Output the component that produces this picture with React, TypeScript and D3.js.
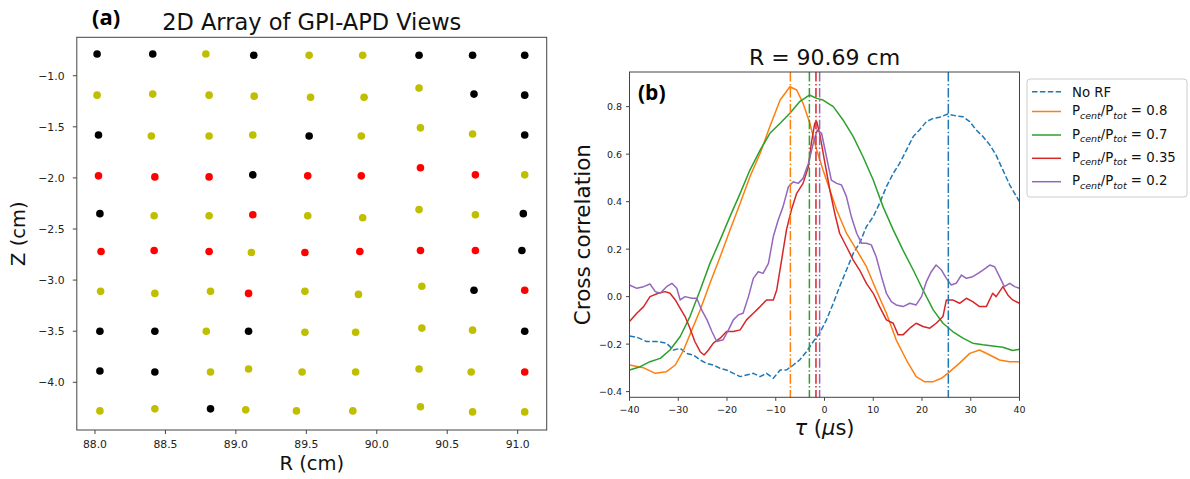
import React from 'react';
import * as d3 from 'd3';

// ---------- Panel (a): 2D array of GPI-APD views ----------
const rLimits = [87.871, 91.206];
const zLimits = [-0.624, -4.467];
const rTicks = [88.0, 88.5, 89.0, 89.5, 90.0, 90.5, 91.0];
const zTicks = [-1.0, -1.5, -2.0, -2.5, -3.0, -3.5, -4.0];

const viewR = [
  88.015, 88.41, 88.787, 89.127, 89.52, 89.9, 90.3, 90.68, 91.05,
  88.015, 88.41, 88.81, 89.13, 89.53, 89.91, 90.3, 90.69, 91.05,
  88.025, 88.4, 88.81, 89.12, 89.52, 89.89, 90.31, 90.68, 91.05,
  88.025, 88.425, 88.81, 89.12, 89.51, 89.89, 90.31, 90.7, 91.05,
  88.035, 88.42, 88.81, 89.12, 89.51, 89.9, 90.3, 90.7, 91.04,
  88.043, 88.42, 88.81, 89.11, 89.49, 89.88, 90.31, 90.7, 91.03,
  88.04, 88.425, 88.82, 89.09, 89.49, 89.87, 90.32, 90.69, 91.05,
  88.035, 88.425, 88.79, 89.09, 89.49, 89.85, 90.32, 90.68, 91.05,
  88.035, 88.425, 88.82, 89.09, 89.47, 89.85, 90.3, 90.67, 91.05,
  88.035, 88.425, 88.82, 89.07, 89.43, 89.83, 90.31, 90.68, 91.05,
];
const viewZ = [
  -0.788, -0.788, -0.788, -0.8, -0.8, -0.8, -0.8, -0.8, -0.8,
  -1.19, -1.18, -1.19, -1.2, -1.21, -1.21, -1.12, -1.18, -1.19,
  -1.58, -1.59, -1.59, -1.58, -1.59, -1.59, -1.51, -1.57, -1.58,
  -1.98, -1.99, -1.99, -1.97, -1.98, -1.98, -1.9, -1.97, -1.97,
  -2.35, -2.37, -2.37, -2.36, -2.37, -2.39, -2.31, -2.36, -2.35,
  -2.72, -2.71, -2.72, -2.73, -2.73, -2.72, -2.71, -2.71, -2.71,
  -3.11, -3.13, -3.11, -3.13, -3.11, -3.14, -3.06, -3.1, -3.1,
  -3.5, -3.5, -3.5, -3.5, -3.51, -3.51, -3.47, -3.49, -3.5,
  -3.89, -3.9, -3.9, -3.87, -3.9, -3.9, -3.87, -3.9, -3.9,
  -4.28, -4.26, -4.26, -4.27, -4.28, -4.28, -4.24, -4.29, -4.29,
];
const viewClass = [
  'k', 'k', 'y', 'k', 'y', 'y', 'k', 'k', 'k',
  'y', 'y', 'y', 'y', 'y', 'y', 'y', 'k', 'k',
  'k', 'y', 'y', 'y', 'k', 'y', 'y', 'y', 'k',
  'r', 'r', 'r', 'k', 'r', 'r', 'r', 'r', 'y',
  'k', 'y', 'y', 'r', 'y', 'y', 'y', 'y', 'k',
  'r', 'r', 'r', 'y', 'r', 'r', 'r', 'r', 'k',
  'y', 'y', 'y', 'r', 'y', 'y', 'y', 'k', 'r',
  'k', 'k', 'y', 'k', 'y', 'y', 'y', 'y', 'k',
  'k', 'k', 'y', 'y', 'y', 'y', 'y', 'y', 'r',
  'y', 'y', 'k', 'y', 'y', 'y', 'y', 'y', 'y',
];
const classColor: Record<string, string> = { k: '#000000', y: '#bfbf00', r: '#ff0000' };

// ---------- Panel (b): cross correlation ----------
const tauLimits = [-40, 40];
const ccLimits = [-0.424, 0.946];
const tauTicks = [-40, -30, -20, -10, 0, 10, 20, 30, 40];
const ccTicks = [-0.4, -0.2, 0.0, 0.2, 0.4, 0.6, 0.8];

const tauNoRF = [-40, -38.5, -36.5, -34.4, -32.4, -31.0, -29.6, -28.3, -26.9, -25.5, -24.2, -22.8, -21.4, -20.1, -18.7, -17.3, -16.0, -14.6, -13.2, -11.9, -10.5, -9.1, -7.8, -6.4, -5.1, -3.7, -2.3, -1.0, 0.4, 1.8, 3.1, 4.5, 5.9, 7.2, 8.6, 10.0, 11.3, 12.7, 14.1, 15.4, 16.8, 18.2, 19.5, 20.9, 22.3, 23.6, 25.3, 27.0, 28.4, 29.8, 31.1, 32.5, 33.9, 35.2, 36.6, 38.0, 40];
const ccNoRF = [-0.166, -0.171, -0.189, -0.189, -0.196, -0.225, -0.218, -0.239, -0.246, -0.267, -0.281, -0.288, -0.302, -0.309, -0.323, -0.337, -0.33, -0.323, -0.337, -0.323, -0.344, -0.309, -0.309, -0.288, -0.267, -0.232, -0.189, -0.154, -0.098, -0.028, 0.042, 0.112, 0.182, 0.225, 0.295, 0.337, 0.393, 0.463, 0.519, 0.561, 0.617, 0.674, 0.702, 0.737, 0.751, 0.755, 0.769, 0.761, 0.758, 0.737, 0.702, 0.674, 0.639, 0.596, 0.533, 0.47, 0.4];

const tau08 = [-40, -37.1, -34.7, -32.4, -30.6, -28.9, -27.2, -25.5, -23.5, -21.4, -19.4, -17.3, -15.3, -13.2, -11.2, -9.1, -7.1, -5.7, -4.4, -3.0, -1.6, -0.3, 1.1, 2.5, 4.5, 6.6, 8.6, 10.6, 12.7, 14.7, 16.8, 18.8, 20.5, 22.3, 24.0, 25.7, 27.7, 29.8, 31.8, 33.9, 35.9, 37.95, 40];
const cc08 = [-0.288, -0.3, -0.323, -0.316, -0.288, -0.225, -0.14, -0.056, 0.056, 0.168, 0.28, 0.393, 0.505, 0.604, 0.716, 0.828, 0.884, 0.87, 0.814, 0.73, 0.617, 0.533, 0.449, 0.365, 0.267, 0.196, 0.126, 0.028, -0.07, -0.182, -0.267, -0.337, -0.358, -0.358, -0.344, -0.316, -0.28, -0.239, -0.225, -0.246, -0.267, -0.274, -0.274];

const tau07 = [-40, -37.8, -35.8, -33.7, -31.7, -29.6, -27.6, -25.5, -23.5, -21.4, -19.4, -17.3, -15.3, -13.2, -11.2, -9.1, -7.1, -5.1, -3.1, -1.6, -0.3, 1.8, 3.8, 5.9, 7.9, 10.0, 12.0, 14.1, 16.1, 18.2, 20.2, 22.3, 24.3, 26.3, 28.4, 30.4, 32.5, 34.5, 36.6, 38.6, 40];
const cc07 = [-0.309, -0.295, -0.274, -0.26, -0.225, -0.168, -0.084, 0.028, 0.14, 0.239, 0.337, 0.435, 0.533, 0.617, 0.688, 0.73, 0.772, 0.821, 0.849, 0.835, 0.828, 0.8, 0.744, 0.674, 0.589, 0.491, 0.379, 0.281, 0.196, 0.112, 0.028, -0.056, -0.112, -0.147, -0.175, -0.196, -0.203, -0.208, -0.213, -0.227, -0.222];

const tau035 = [-40, -38.5, -37.1, -35.8, -34.1, -32.7, -31.7, -30.6, -29.6, -28.6, -27.6, -26.6, -25.5, -24.7, -23.8, -22.8, -21.4, -20.1, -18.7, -17.3, -16.0, -14.6, -13.2, -11.9, -10.5, -9.8, -8.8, -7.8, -6.8, -5.7, -4.4, -3.3, -2.7, -2.0, -1.6, -1.0, 0.1, 1.1, 2.1, 3.1, 4.5, 5.9, 7.2, 8.6, 10.0, 11.3, 12.7, 14.1, 15.1, 16.1, 17.5, 18.8, 20.2, 21.6, 22.9, 24.3, 25.0, 26.3, 27.7, 29.1, 30.4, 31.8, 33.2, 34.5, 35.2, 36.6, 37.6, 38.6, 40];
const cc035 = [-0.105, -0.07, -0.042, 0.0, 0.014, 0.021, 0.014, -0.014, -0.049, -0.084, -0.133, -0.189, -0.232, -0.246, -0.225, -0.196, -0.175, -0.147, -0.147, -0.14, -0.098, -0.07, -0.042, -0.014, -0.014, 0.028, 0.154, 0.281, 0.365, 0.435, 0.477, 0.547, 0.646, 0.73, 0.737, 0.688, 0.561, 0.449, 0.351, 0.267, 0.211, 0.154, 0.112, 0.056, 0.014, -0.042, -0.098, -0.112, -0.161, -0.161, -0.133, -0.112, -0.126, -0.133, -0.112, -0.084, -0.014, -0.014, -0.028, -0.007, -0.021, -0.042, -0.042, 0.014, 0.0, 0.042, 0.007, -0.014, -0.028];

const tau02 = [-40, -38.5, -37.1, -35.8, -34.7, -33.7, -32.4, -31.3, -30.3, -29.6, -28.6, -27.2, -26.2, -25.2, -24.1, -23.1, -22.1, -20.8, -19.7, -18.7, -17.7, -16.7, -15.6, -14.6, -13.6, -12.6, -11.5, -10.5, -9.5, -8.5, -7.4, -6.4, -5.4, -4.4, -3.3, -2.3, -1.5, -0.6, 0.4, 1.4, 2.5, 3.5, 4.5, 5.5, 6.6, 7.6, 8.6, 9.6, 10.6, 11.7, 12.7, 13.7, 14.7, 16.1, 17.5, 18.8, 19.9, 20.9, 21.9, 22.9, 24.0, 25.0, 26.0, 27.0, 28.1, 29.1, 30.4, 31.5, 32.5, 33.9, 34.9, 35.9, 36.9, 38.0, 39.0, 40];
const cc02 = [0.049, 0.035, 0.042, 0.053, 0.021, 0.014, 0.042, 0.056, 0.035, -0.014, 0.0, -0.007, -0.007, -0.056, -0.098, -0.147, -0.189, -0.182, -0.14, -0.098, -0.077, -0.07, 0.0, 0.077, 0.105, 0.098, 0.14, 0.253, 0.323, 0.379, 0.463, 0.484, 0.477, 0.498, 0.561, 0.646, 0.702, 0.688, 0.589, 0.491, 0.477, 0.47, 0.421, 0.337, 0.267, 0.225, 0.225, 0.218, 0.168, 0.084, 0.014, -0.021, -0.035, -0.042, -0.028, -0.035, 0.0, 0.063, 0.105, 0.133, 0.112, 0.077, 0.049, 0.056, 0.091, 0.077, 0.084, 0.098, 0.112, 0.133, 0.126, 0.084, 0.042, 0.056, 0.042, 0.035];

const seriesNames = ['No RF', '0.8', '0.7', '0.35', '0.2'];
const seriesColors = ['#1f77b4', '#ff7f0e', '#2ca02c', '#d62728', '#9467bd'];
const seriesTau = [tauNoRF, tau08, tau07, tau035, tau02];
const seriesCC = [ccNoRF, cc08, cc07, cc035, cc02];
const peakTau = [25.4, -7.0, -3.1, -1.75, -1.0];

const FONT = 'DejaVu Sans';

export default function App() {
  // panel a scales
  const xL = d3.scaleLinear().domain(rLimits).range([76.8, 546.7]);
  const yL = d3.scaleLinear().domain(zLimits).range([37.3, 430]);
  // panel b scales
  const xR = d3.scaleLinear().domain(tauLimits).range([629.5, 1019.5]);
  const yR = d3.scaleLinear().domain(ccLimits).range([397.3, 72]);

  const fmt1 = d3.format('.1f');
  const fmt0 = d3.format('d');

  const line = (taus: number[], vals: number[]) =>
    d3.line<number>().x((_, i) => xR(taus[i])).y((v) => yR(v))(vals) || '';

  const [lx0, lx1] = xL.range();
  const [ly0, ly1] = yL.range();
  const [rx0, rx1] = xR.range();
  const [ry1, ry0] = yR.range();

  const legendRows = [91.7, 111.5, 135, 158.3, 181.7];

  return (
    <svg width={1190} height={479} style={{ position: 'absolute', left: 0, top: 0, background: '#fff' }} fontFamily={FONT}>
      <rect x={0} y={0} width={1190} height={479} fill="#fff" />
      {/* ===== Panel a ===== */}
      <text x={92} y={25} fontFamily="Open Sans" fontWeight={700} fontSize={22} fill="#000">(a)</text>
      <text x={(lx0 + lx1) / 2} y={30} textAnchor="middle" fontSize={22.5} fill="#111">2D Array of GPI-APD Views</text>
      {viewR.map((r, i) => (
        <circle key={i} cx={xL(r)} cy={yL(viewZ[i])} r={3.8} fill={classColor[viewClass[i]]} />
      ))}
      <rect x={lx0} y={ly0} width={lx1 - lx0} height={ly1 - ly0} fill="none" stroke="#444" strokeWidth={1} />
      {rTicks.map((t) => (
        <g key={'rt' + t}>
          <line x1={xL(t)} x2={xL(t)} y1={ly1} y2={ly1 + 4} stroke="#444" />
          <text x={xL(t)} y={448} textAnchor="middle" fontSize={10.8} fill="#222">{fmt1(t)}</text>
        </g>
      ))}
      {zTicks.map((t) => (
        <g key={'zt' + t}>
          <line x1={lx0 - 4} x2={lx0} y1={yL(t)} y2={yL(t)} stroke="#444" />
          <text x={64.5} y={yL(t)} dy="0.36em" textAnchor="end" fontSize={10.8} fill="#222">{fmt1(t)}</text>
        </g>
      ))}
      <text x={(lx0 + lx1) / 2} y={470} textAnchor="middle" fontSize={19.5} fill="#111">R (cm)</text>
      <text transform={`translate(25,${(ly0 + ly1) / 2}) rotate(-90)`} textAnchor="middle" fontSize={19.5} fill="#111">Z (cm)</text>

      {/* ===== Panel b ===== */}
      <text x={(rx0 + rx1) / 2} y={65} textAnchor="middle" fontSize={22} fill="#111">R = 90.69 cm</text>
      {seriesTau.map((taus, i) => (
        <path key={'s' + i} d={line(taus, seriesCC[i])} fill="none" stroke={seriesColors[i]} strokeWidth={1.5}
          strokeDasharray={i === 0 ? '5.5,2.4' : undefined} strokeLinejoin="round" />
      ))}
      {peakTau.map((t, i) => (
        <line key={'v' + i} x1={xR(t)} x2={xR(t)} y1={ry0} y2={ry1} stroke={seriesColors[i]} strokeWidth={1.5}
          strokeDasharray="9.6,2.4,1.5,2.4" />
      ))}
      <rect x={rx0} y={ry0} width={rx1 - rx0} height={ry1 - ry0} fill="none" stroke="#444" strokeWidth={1} />
      <text x={638} y={100} fontFamily="Open Sans" fontWeight={700} fontSize={21} fill="#000">(b)</text>
      {tauTicks.map((t) => (
        <g key={'tt' + t}>
          <line x1={xR(t)} x2={xR(t)} y1={ry1} y2={ry1 + 3.5} stroke="#444" />
          <text x={xR(t)} y={413} textAnchor="middle" fontSize={9.5} fill="#222">{fmt0(t)}</text>
        </g>
      ))}
      {ccTicks.map((t) => (
        <g key={'ct' + t}>
          <line x1={rx0 - 3.5} x2={rx0} y1={yR(t)} y2={yR(t)} stroke="#444" />
          <text x={622} y={yR(t)} dy="0.36em" textAnchor="end" fontSize={9.5} fill="#222">{fmt1(t)}</text>
        </g>
      ))}
      <text x={(rx0 + rx1) / 2} y={435} textAnchor="middle" fontSize={21} fill="#111">
        <tspan fontStyle="italic">τ</tspan> (<tspan fontStyle="italic">μ</tspan>s)
      </text>
      <text transform={`translate(589.5,${(ry0 + ry1) / 2}) rotate(-90)`} textAnchor="middle" fontSize={21.5} fill="#111">Cross correlation</text>

      {/* legend */}
      <rect x={1027} y={79} width={160} height={118} rx={3} fill="#fff" fillOpacity={0.8} stroke="#cccccc" strokeWidth={1} />
      {seriesNames.map((name, i) => (
        <g key={'lg' + i}>
          <line x1={1032} x2={1061} y1={legendRows[i]} y2={legendRows[i]} stroke={seriesColors[i]} strokeWidth={1.5}
            strokeDasharray={i === 0 ? '5.5,2.4' : undefined} />
          {i === 0 ? (
            <text x={1072} y={legendRows[i] + 4.8} fontSize={13.3} fill="#111">{name}</text>
          ) : (
            <text x={1072} y={legendRows[i] + 3.5} fontSize={13.3} fill="#111">
              P<tspan fontStyle="italic" fontSize={9.5} dy={3.5}>cent</tspan>
              <tspan dy={-3.5}>/P</tspan>
              <tspan fontStyle="italic" fontSize={9.5} dy={3.5}>tot</tspan>
              <tspan dy={-3.5}>{' = ' + name}</tspan>
            </text>
          )}
        </g>
      ))}
    </svg>
  );
}
